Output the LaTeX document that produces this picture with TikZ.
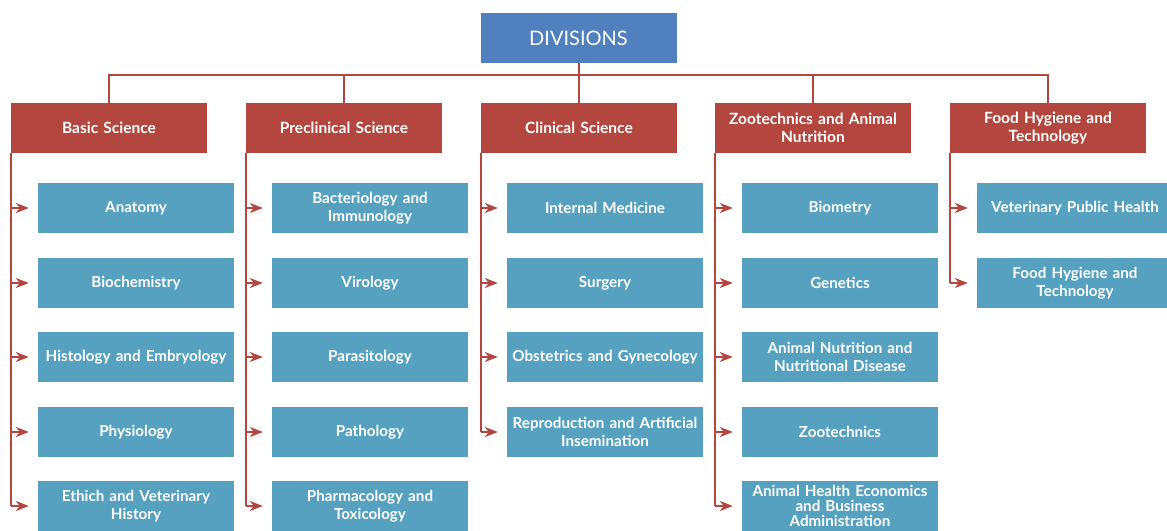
\documentclass[tikz,border=0pt]{standalone}
\usepackage{fontspec}
\setmainfont{Lato}
\usetikzlibrary{arrows.meta}
\definecolor{bleu}{HTML}{5080BE}
\definecolor{rouge}{HTML}{B34740}
\definecolor{bleuclair}{HTML}{56A1C0}
\begin{document}
\begin{tikzpicture}[x=1pt,y=-1pt]
% Styles
\tikzstyle{titre}=[fill=bleu,text=white,minimum width=196pt,minimum height=50pt,inner sep=0pt,font=\fontsize{20}{24}\selectfont]
\tikzstyle{division}=[fill=rouge,text=white,minimum width=196pt,minimum height=50pt,inner sep=0pt,text width=190pt,align=center,font=\bfseries\fontsize{15.5}{18}\selectfont]
\tikzstyle{matiere}=[fill=bleuclair,text=white,minimum width=196pt,minimum height=50pt,inner sep=0pt,text width=194pt,align=center,font=\bfseries\fontsize{15.2}{18.5}\selectfont]
\tikzstyle{lien}=[draw=rouge,line width=2pt]
\tikzstyle{fleche}=[lien,-{Stealth[length=13pt,width=10pt,inset=4pt]},shorten >=9pt]
% Cadre
\useasboundingbox (0,0) rectangle (1167,530);
% Titre
\node[titre] (div) at (578.5,38) {DIVISIONS};
\coordinate (bus) at (578.5,75);
% Divisions
\node[division] (bs) at (109,128) {Basic Science};
\node[division] (pc) at (344,128) {Preclinical Science};
\node[division] (cs) at (579,128) {Clinical Science};
\node[division] (za) at (813,128) {Zootechnics and Animal\\Nutrition};
\node[division] (fh) at (1048,128) {Food Hygiene and\\Technology};
% Basic Science
\node[matiere] (bs1) at (136,208) {Anatomy};
\node[matiere] (bs2) at (136,283) {Biochemistry};
\node[matiere] (bs3) at (136,357) {Histology and Embryology};
\node[matiere] (bs4) at (136,432) {Physiology};
\node[matiere] (bs5) at (136,506) {Ethich and Veterinary\\History};
% Preclinical Science
\node[matiere] (pc1) at (370,208) {Bacteriology and\\Immunology};
\node[matiere] (pc2) at (370,283) {Virology};
\node[matiere] (pc3) at (370,357) {Parasitology};
\node[matiere] (pc4) at (370,432) {Pathology};
\node[matiere] (pc5) at (370,506) {Pharmacology and\\Toxicology};
% Clinical Science
\node[matiere] (cs1) at (605,208) {Internal Medicine};
\node[matiere] (cs2) at (605,283) {Surgery};
\node[matiere] (cs3) at (605,357) {Obstetrics and Gynecology};
\node[matiere] (cs4) at (605,432) {Reproduction and Artificial\\Insemination};
% Zootechnics and Animal Nutrition
\node[matiere] (za1) at (840,208) {Biometry};
\node[matiere] (za2) at (840,283) {Genetics};
\node[matiere] (za3) at (840,357) {Animal Nutrition and\\Nutritional Disease};
\node[matiere] (za4) at (840,432) {Zootechnics};
\node[matiere,font=\bfseries\fontsize{15.2}{15}\selectfont] (za5) at (840,506) {Animal Health Economics\\and Business\\Administration};
% Food Hygiene and Technology
\node[matiere] (fh1) at (1075,208) {Veterinary Public Health};
\node[matiere] (fh2) at (1075,283) {Food Hygiene and\\Technology};
% Liaisons du titre
\draw[lien] (div.south) -- (bus);
\draw[lien] (bs.north) -- (bs.north |- bus) -- (fh.north |- bus) -- (fh.north);
\draw[lien] (pc.north) -- (pc.north |- bus);
\draw[lien] (cs.north) -- (cs.north |- bus);
\draw[lien] (za.north) -- (za.north |- bus);
% Troncs
\draw[lien] (bs.south west) -- (bs.south west |- bs5.west);
\draw[lien] (pc.south west) -- (pc.south west |- pc5.west);
\draw[lien] (cs.south west) -- (cs.south west |- cs4.west);
\draw[lien] (za.south west) -- (za.south west |- za5.west);
\draw[lien] (fh.south west) -- (fh.south west |- fh2.west);
% Fleches
\draw[fleche] (bs.south west |- bs1.west) -- (bs1.west);
\draw[fleche] (bs.south west |- bs2.west) -- (bs2.west);
\draw[fleche] (bs.south west |- bs3.west) -- (bs3.west);
\draw[fleche] (bs.south west |- bs4.west) -- (bs4.west);
\draw[fleche] (bs.south west |- bs5.west) -- (bs5.west);
\draw[fleche] (pc.south west |- pc1.west) -- (pc1.west);
\draw[fleche] (pc.south west |- pc2.west) -- (pc2.west);
\draw[fleche] (pc.south west |- pc3.west) -- (pc3.west);
\draw[fleche] (pc.south west |- pc4.west) -- (pc4.west);
\draw[fleche] (pc.south west |- pc5.west) -- (pc5.west);
\draw[fleche] (cs.south west |- cs1.west) -- (cs1.west);
\draw[fleche] (cs.south west |- cs2.west) -- (cs2.west);
\draw[fleche] (cs.south west |- cs3.west) -- (cs3.west);
\draw[fleche] (cs.south west |- cs4.west) -- (cs4.west);
\draw[fleche] (za.south west |- za1.west) -- (za1.west);
\draw[fleche] (za.south west |- za2.west) -- (za2.west);
\draw[fleche] (za.south west |- za3.west) -- (za3.west);
\draw[fleche] (za.south west |- za4.west) -- (za4.west);
\draw[fleche] (za.south west |- za5.west) -- (za5.west);
\draw[fleche] (fh.south west |- fh1.west) -- (fh1.west);
\draw[fleche] (fh.south west |- fh2.west) -- (fh2.west);
\end{tikzpicture}
\end{document}
